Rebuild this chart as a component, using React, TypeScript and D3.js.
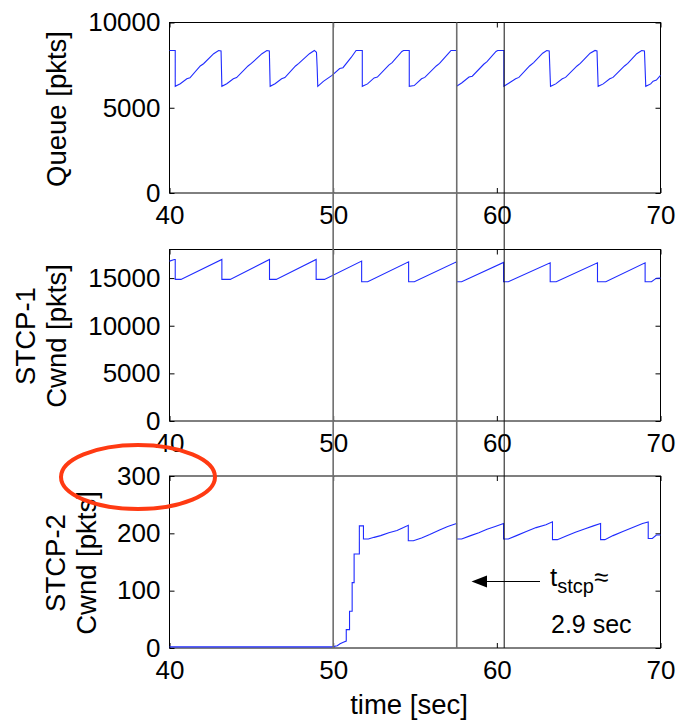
import { useEffect, useRef } from 'react';
import * as d3 from 'd3';

// time [sec], value pairs
const queueSeries: [number, number][] = [
  [40.0, 8360], [40.35, 8360], [40.35, 6256], [40.66, 6410], [41.06, 6700], [41.25, 6760], [41.88, 7450], [42.08, 7580], [42.7, 8170], [43.0, 8360], [43.15, 8330], [43.2, 6256],
  [43.5, 6410], [43.9, 6700], [44.1, 6770], [44.8, 7450], [45.0, 7600], [45.65, 8170], [45.95, 8360], [46.1, 8330], [46.15, 6256],
  [46.45, 6410], [46.85, 6700], [47.05, 6770], [47.7, 7450], [47.9, 7600], [48.55, 8170], [48.85, 8360], [48.98, 8250], [49.02, 7400], [49.06, 6256],
  [49.4, 6550], [49.93, 6900], [50.4, 7300], [50.6, 7350], [51.1, 7950], [51.4, 8360], [51.78, 8360], [51.78, 6256],
  [52.1, 6400], [52.5, 6750], [52.7, 6800], [53.4, 7500], [53.6, 7650], [54.2, 8300], [54.3, 8360], [54.65, 8360], [54.65, 6256],
  [54.95, 6300], [55.4, 6700], [55.6, 6780], [56.3, 7450], [56.5, 7600], [57.1, 8250], [57.2, 8360], [57.54, 8360], [57.54, 6256],
  [57.85, 6450], [58.3, 6800], [58.5, 6850], [59.2, 7550], [59.4, 7700], [59.95, 8300], [60.05, 8360], [60.43, 8360], [60.43, 6256],
  [60.75, 6450], [61.15, 6700], [61.35, 6780], [62.0, 7450], [62.25, 7650], [62.8, 8200], [63.05, 8360], [63.2, 8330], [63.28, 6256],
  [63.6, 6400], [64.0, 6700], [64.2, 6780], [64.9, 7450], [65.1, 7600], [65.7, 8200], [66.0, 8360], [66.12, 8330], [66.19, 6256],
  [66.5, 6400], [66.9, 6700], [67.1, 6780], [67.8, 7450], [68.0, 7600], [68.55, 8170], [68.85, 8360], [69.02, 8330], [69.1, 6256],
  [69.4, 6400], [69.55, 6560], [69.75, 6620], [70.0, 6900],
];

const stcp1Series: [number, number][] = [
  [40.0, 16780], [40.3, 16950], [40.35, 16950], [40.35, 14860], [40.7, 14860],
  [43.2, 16950], [43.2, 14860], [43.71, 14860],
  [46.11, 16950], [46.11, 14860], [46.52, 14860],
  [48.96, 16950], [48.96, 14860], [49.47, 14860],
  [51.74, 16780], [51.74, 14615], [52.11, 14615],
  [54.61, 16710], [54.61, 14615], [54.96, 14615],
  [57.54, 16710], [57.54, 14615], [57.85, 14615],
  [60.41, 16640], [60.41, 14615], [60.7, 14615],
  [63.26, 16600], [63.26, 14615], [63.63, 14615],
  [66.15, 16600], [66.15, 14615], [66.66, 14615],
  [69.06, 16600], [69.06, 14615], [69.45, 14615],
  [69.75, 14990], [70.0, 15000],
];

const stcp2Series: [number, number][] = [
  [40.0, 2], [49.93, 2], [50.25, 4], [50.42, 7.5], [50.62, 10], [50.8, 12],
  [50.8, 32], [51.0, 32], [51.0, 64], [51.16, 64], [51.16, 114], [51.28, 114],
  [51.28, 164], [51.6, 164], [51.6, 213], [51.85, 213], [51.85, 190],
  [52.15, 190], [52.5, 193], [52.9, 196], [53.4, 201], [53.9, 205], [54.3, 210], [54.59, 214], [54.59, 187],
  [54.9, 187], [55.4, 192], [55.9, 198], [56.5, 206], [57.0, 212], [57.54, 217], [57.54, 190],
  [57.85, 190], [58.4, 196], [58.9, 201], [59.4, 207], [59.9, 212], [60.41, 217], [60.41, 190],
  [60.7, 190], [61.2, 196], [61.8, 203], [62.4, 210], [63.0, 215], [63.4, 220], [63.4, 189],
  [63.7, 189], [64.2, 195], [64.8, 202], [65.4, 208], [65.9, 213], [66.34, 217], [66.34, 189],
  [66.6, 189], [67.1, 196], [67.7, 203], [68.3, 210], [68.9, 217], [69.25, 220], [69.25, 191],
  [69.5, 191], [69.75, 197], [70.0, 197],
];

const xTicks = [40, 50, 60, 70];
const queueTicks = [0, 5000, 10000];
const stcp1Ticks = [0, 5000, 10000, 15000];
const stcp2Ticks = [0, 100, 200, 300];
const markerTimes = [50, 57.55, 60.45];

const FONT = 'Arial, "Liberation Sans", sans-serif';
const LEFT = 169.5;
const RIGHT = 660.5;

export default function App() {
  const svgRef = useRef<SVGSVGElement>(null);

  useEffect(() => {
    if (!svgRef.current) return;
    const svg = d3.select(svgRef.current);
    svg.selectAll('*').remove();

    const x = d3.scaleLinear().domain([40, 70]).range([LEFT, RIGHT]);
    const fmt = d3.format('d');

    const panels = [
      { data: queueSeries, ticks: queueTicks, domain: [0, 10000], top: 22.5, bottom: 193 },
      { data: stcp1Series, ticks: stcp1Ticks, domain: [0, 18000], top: 249.5, bottom: 421 },
      { data: stcp2Series, ticks: stcp2Ticks, domain: [0, 300], top: 476, bottom: 648 },
    ];

    panels.forEach(p => {
      const y = d3.scaleLinear().domain(p.domain).range([p.bottom, p.top]);
      const g = svg.append('g');

      // box
      g.append('rect')
        .attr('x', LEFT).attr('y', p.top)
        .attr('width', RIGHT - LEFT).attr('height', p.bottom - p.top)
        .attr('fill', 'none').attr('stroke', '#000').attr('stroke-width', 1);

      const bottomAxis = g.append('g')
        .attr('transform', `translate(0,${p.bottom})`)
        .call(d3.axisBottom(x).tickValues(xTicks).tickFormat(fmt).tickSizeInner(-5).tickSizeOuter(0).tickPadding(13));
      const topAxis = g.append('g')
        .attr('transform', `translate(0,${p.top})`)
        .call(d3.axisTop(x).tickValues(xTicks).tickSizeInner(-5).tickSizeOuter(0).tickFormat(() => ''));
      const leftAxis = g.append('g')
        .attr('transform', `translate(${LEFT},0)`)
        .call(d3.axisLeft(y).tickValues(p.ticks).tickFormat(fmt).tickSizeInner(-5).tickSizeOuter(0).tickPadding(9));
      const rightAxis = g.append('g')
        .attr('transform', `translate(${RIGHT},0)`)
        .call(d3.axisRight(y).tickValues(p.ticks).tickSizeInner(-5).tickSizeOuter(0).tickFormat(() => ''));

      [bottomAxis, topAxis, leftAxis, rightAxis].forEach(a => {
        a.attr('font-family', FONT).attr('font-size', 26);
        a.select('.domain').remove();
        a.selectAll('line').attr('stroke', '#000');
        a.selectAll('text').attr('fill', '#000');
      });

      const line = d3.line<[number, number]>()
        .x(d => x(d[0]))
        .y(d => y(d[1]));

      g.append('path')
        .datum(p.data)
        .attr('d', line)
        .attr('fill', 'none')
        .attr('stroke', '#1f2bff')
        .attr('stroke-width', 1.1);
    });

    // vertical marker lines across all panels
    svg.append('g')
      .selectAll('line')
      .data(markerTimes)
      .enter()
      .append('line')
      .attr('x1', d => x(d)).attr('x2', d => x(d))
      .attr('y1', 22.5).attr('y2', 648)
      .attr('stroke', (_, i) => (i < 2 ? '#6e6e6e' : '#111'))
      .attr('stroke-width', (_, i) => (i < 2 ? 1.6 : 1));

    // y labels
    const ylab = (lines: string[], cx: number, cy: number) => {
      lines.forEach((t, i) => {
        svg.append('text')
          .attr('transform', `translate(${cx + i * 31},${cy}) rotate(-90)`)
          .attr('text-anchor', 'middle')
          .attr('font-family', FONT)
          .attr('font-size', 27.5)
          .text(t);
      });
    };
    ylab(['Queue [pkts]'], 66, 109);
    ylab(['STCP-1', 'Cwnd [pkts]'], 35, 336);
    ylab(['STCP-2', 'Cwnd [pkts]'], 65, 563);

    svg.append('text')
      .attr('x', 409).attr('y', 714)
      .attr('text-anchor', 'middle')
      .attr('font-family', FONT)
      .attr('font-size', 27.5)
      .text('time [sec]');

    // annotation arrow
    svg.append('line')
      .attr('x1', 486).attr('x2', 540)
      .attr('y1', 581.5).attr('y2', 581.5)
      .attr('stroke', '#000').attr('stroke-width', 1);
    svg.append('path')
      .attr('d', 'M471.5,581.5 L487,575.5 L487,587.5 Z')
      .attr('fill', '#000');

    const ann = svg.append('text')
      .attr('x', 550).attr('y', 586)
      .attr('font-family', FONT)
      .attr('font-size', 26);
    ann.append('tspan').text('t');
    ann.append('tspan').attr('font-size', 20).attr('dy', 7).text('stcp');
    ann.append('tspan').attr('dy', -7).text('≈');

    svg.append('text')
      .attr('x', 551).attr('y', 633)
      .attr('font-family', FONT)
      .attr('font-size', 25)
      .text('2.9 sec');

    // red highlight ellipse
    svg.append('ellipse')
      .attr('cx', 138).attr('cy', 477)
      .attr('rx', 77).attr('ry', 32)
      .attr('fill', 'none')
      .attr('stroke', '#ff3a12')
      .attr('stroke-width', 4);
  }, []);

  return (
    <svg
      ref={svgRef}
      width={679}
      height={721}
      style={{ position: 'absolute', left: 0, top: 0, background: '#fff' }}
    />
  );
}
